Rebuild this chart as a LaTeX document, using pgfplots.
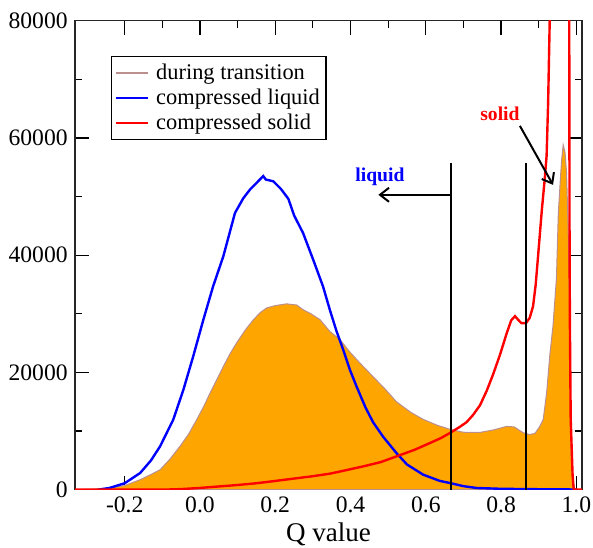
\documentclass[border=0pt]{standalone}
\usepackage{fontspec}
\setmainfont{Liberation Serif}
\usepackage{pgfplots}
\pgfplotsset{compat=1.18}
\usetikzlibrary{arrows.meta}
\definecolor{gbrown}{RGB}{188,143,143}
\definecolor{gorange}{RGB}{255,165,0}
\begin{document}
\begin{tikzpicture}
\begin{axis}[name=ax,
  scale only axis, width=253.5pt, height=234.5pt,
  xmin=-0.332, xmax=1.015, ymin=0, ymax=80000,
  xtick={-0.2,0,0.2,0.4,0.6,0.8,1.0},
  xticklabels={-0.2,0.0,0.2,0.4,0.6,0.8,1.0},
  ytick={0,20000,40000,60000,80000},
  yticklabels={0,20000,40000,60000,80000},
  minor x tick num=1, minor y tick num=1,
  major tick length=7pt, minor tick length=3.5pt,
  tick align=inside,
  every tick/.style={black, line width=0.6pt},
  axis line style={black!85, line width=0.7pt},
  scaled y ticks=false,
  yticklabel style={font=\fontsize{11.8}{13}\selectfont, inner xsep=0pt, xshift=-3.5pt},
  xticklabel style={font=\fontsize{11.8}{13}\selectfont, inner xsep=0pt},
  xlabel={Q value},
  xlabel style={font=\fontsize{13.5}{15}\selectfont, at={(axis description cs:0.5,0)}, anchor=base, inner sep=0pt, yshift=-25.8pt},
  legend style={at={(rel axis cs:0.071,0.925)}, anchor=north west, draw=black, line width=0.6pt,
    font=\fontsize{11.2}{13.75}\selectfont, inner xsep=1.5pt, inner ysep=2pt,
    nodes={inner sep=1.6pt}},
  legend cell align=left,
  legend image code/.code={\draw[#1] (0pt,0pt) -- (16pt,0pt);},
  /tikz/every odd column/.append style={column sep=2pt},
]
% during transition (filled)
\addplot[fill=gorange, draw=gbrown, line width=0.5pt, forget plot] coordinates {
(-0.32,0) (-0.28,100) (-0.24,300) (-0.2,700) (-0.159,1700) (-0.13,2600) (-0.106,3400)
(-0.08,5200) (-0.053,7400) (-0.03,9500) (-0.009,11900) (0.01,14200) (0.027,16500)
(0.045,18800) (0.062,21000) (0.08,23200) (0.097,25000) (0.12,27200) (0.142,29000)
(0.16,30200) (0.177,31000) (0.2,31400) (0.23,31700) (0.257,31500) (0.274,30700)
(0.295,30000) (0.319,29000) (0.345,27000) (0.372,25600) (0.398,23500) (0.425,21600)
(0.452,19800) (0.49,17300) (0.522,15000) (0.56,13200) (0.593,12000) (0.63,11000)
(0.664,10300) (0.699,9800) (0.744,9770) (0.78,10200) (0.815,10800) (0.835,10700)
(0.859,9700) (0.876,9400) (0.89,9600) (0.903,10800) (0.912,12000) (0.921,16500)
(0.93,23300) (0.938,28000) (0.947,36000) (0.952,47000) (0.958,53500) (0.961,56300)
(0.965,58800) (0.97,57500) (0.974,54000) (0.978,45000) (0.981,35000) (0.983,23300)
(0.986,6300) (0.99,2000) (0.996,0)
} \closedcycle;
\addlegendimage{color=gbrown, line width=1pt}
\addlegendentry{during transition}
% compressed liquid
\addplot[blue, line width=1.2pt] coordinates {
(-0.27,0) (-0.24,300) (-0.2,1100) (-0.159,2840) (-0.13,5000) (-0.106,7390) (-0.071,11940)
(-0.044,17050) (-0.018,22730) (0.009,28990) (0.035,34700) (0.062,39800)
(0.093,47200) (0.115,49700) (0.133,51200) (0.15,52300) (0.168,53500) (0.175,52900)
(0.195,52600) (0.215,51300) (0.235,49600) (0.25,46800) (0.274,43770) (0.301,39200)
(0.327,34660) (0.345,30690) (0.363,27000) (0.381,23800) (0.398,20500) (0.416,17610)
(0.44,14000) (0.46,11500) (0.487,9000) (0.522,6250) (0.55,4300) (0.593,2560)
(0.637,1500) (0.664,1140) (0.7,600) (0.735,290) (0.8,150) (0.9,80) (0.98,50) (1.0,0)
};
\addlegendentry{compressed liquid}
% compressed solid
\addplot[red, line width=1.2pt] coordinates {
(-0.34,0) (-0.1,0) (-0.05,100) (0,300) (0.05,550) (0.1,800) (0.15,1100) (0.195,1450)
(0.25,1900) (0.3,2300) (0.345,2730) (0.372,3100) (0.434,3980) (0.48,4700) (0.522,5680)
(0.57,6800) (0.611,7960) (0.64,8800) (0.664,9670) (0.69,10700) (0.708,11500)
(0.725,12700) (0.744,14400) (0.762,16900) (0.779,19700) (0.797,23000) (0.815,26700)
(0.827,28900) (0.837,29600) (0.845,29000) (0.854,28400) (0.866,28400) (0.876,29300)
(0.885,31300) (0.892,35000) (0.899,40400) (0.908,47500) (0.916,53000) (0.921,57000)
(0.925,66000) (0.928,76000) (0.931,86000) (0.95,130000) (0.97,120000) (0.981,85000)
(0.982,40000) (0.983,27000) (0.985,12000) (0.99,2500) (0.993,0) (1.02,0)
};
\addlegendentry{compressed solid}
% markers
\addplot[black, line width=1pt, forget plot] coordinates {(0.667,0) (0.667,55700)};
\addplot[black, line width=1pt, forget plot] coordinates {(0.867,0) (0.867,55700)};
\draw[black, line width=1pt, -{Straight Barb[length=4.5pt,width=7pt]}] (axis cs:0.667,50300) -- (axis cs:0.474,50300);
\draw[black, line width=1pt, -{Straight Barb[length=4.5pt,width=7pt]}] (axis cs:0.85,62060) -- (axis cs:0.938,52000);
\node[blue, font=\fontsize{9.8}{11}\selectfont\bfseries] at (axis cs:0.478,53400) {liquid};
\node[red, font=\fontsize{9.8}{11}\selectfont\bfseries] at (axis cs:0.797,64200) {solid};
\end{axis}
\path ([shift={(-37.5pt,-29pt)}]ax.south west) rectangle ([shift={(5.5pt,10.35pt)}]ax.north east);
\end{tikzpicture}
\end{document}
